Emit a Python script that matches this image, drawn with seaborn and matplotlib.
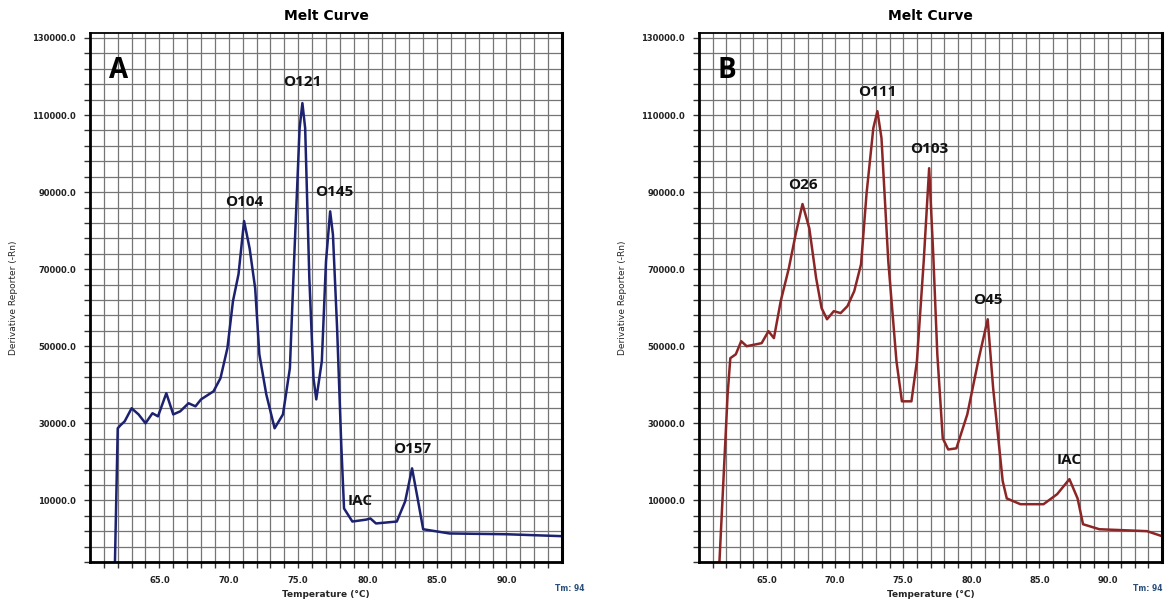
import numpy as np
import pandas as pd
import matplotlib
matplotlib.use("Agg")
import matplotlib.pyplot as plt
import seaborn as sns

# Panel A melt curve (temperature in °C, derivative reporter -Rn)
temp_a = [61.8, 62.0, 62.2, 62.5, 63.0, 63.5, 64.0, 64.5, 64.9, 65.5, 66.0, 66.5, 67.1, 67.6,
          68.0, 68.9, 69.4, 69.9, 70.3, 70.7, 71.1, 71.5, 71.9, 72.2, 72.7, 73.3, 73.9, 74.4,
          74.7, 75.1, 75.3, 75.5, 75.8, 76.1, 76.3, 76.7, 77.0, 77.3, 77.5, 77.8, 78.1, 78.3,
          78.9, 79.9, 80.2, 80.6, 82.1, 82.7, 83.2, 83.6, 84.0, 85.9, 90.0, 94.0]
rn_a = [-6000, 28700, 29500, 30500, 33900, 32300, 30000, 32600, 31800, 37800, 32300, 33100,
        35200, 34400, 36200, 38300, 41700, 49500, 61700, 68700, 82500, 75400, 65000, 47900,
        37500, 28700, 32300, 44300, 72000, 106600, 113100, 106600, 67700, 41700, 36200, 46100,
        72000, 85000, 79000, 54700, 24500, 7900, 4500, 5000, 5300, 4000, 4500, 9700, 18300,
        10500, 2500, 1400, 1200, 700]

# Panel B melt curve
temp_b = [61.5, 62.1, 62.3, 62.7, 63.1, 63.5, 64.6, 65.1, 65.5, 66.0, 66.6, 67.1, 67.6, 68.1,
          68.6, 69.0, 69.4, 69.9, 70.4, 70.9, 71.4, 71.9, 72.3, 72.8, 73.1, 73.4, 73.9, 74.5,
          74.9, 75.6, 76.0, 76.5, 76.9, 77.2, 77.5, 77.9, 78.3, 78.9, 79.7, 80.5, 81.2, 81.6,
          82.3, 82.6, 83.6, 85.3, 86.3, 87.2, 87.8, 88.2, 89.4, 92.9, 94.0]
rn_b = [-6000, 37500, 46900, 47900, 51300, 50000, 50800, 53900, 52100, 61700, 70300, 79100,
        86900, 80600, 67700, 59900, 57000, 59100, 58600, 60400, 64300, 71300, 89500, 106600,
        111000, 104000, 72000, 46100, 35700, 35700, 46100, 72000, 96200, 73900, 47900, 26100,
        23200, 23500, 32300, 46100, 57000, 39100, 15000, 10500, 9000, 9000, 11600, 15500,
        10500, 3800, 2500, 2000, 700]

# Peak annotations: (label, temperature, value)
peaks_a = [("O104", 71.1, 82500), ("O121", 75.3, 113100), ("O145", 77.3, 85000),
           ("IAC", 80.2, 5300), ("O157", 83.2, 18300)]
peaks_b = [("O26", 67.6, 86900), ("O111", 73.1, 111000), ("O103", 76.9, 96200),
           ("O45", 81.2, 57000), ("IAC", 87.2, 15500)]

x_ticks = [65.0, 70.0, 75.0, 80.0, 85.0, 90.0]
y_ticks = [10000.0, 30000.0, 50000.0, 70000.0, 90000.0, 110000.0, 130000.0]
panel_letters = ["A", "B"]
line_colors = ["#1c2170", "#8c2626"]

sns.set_style("white")
plt.rcParams["font.family"] = ["DejaVu Sans"]

fig = plt.figure(figsize=(11.76, 6.05), dpi=100)
ax_a = fig.add_axes([0.0765, 0.0711, 0.4014, 0.8744])
ax_b = fig.add_axes([0.5944, 0.0711, 0.3937, 0.8744])

# label offsets (pixels) above each peak
offsets_a = [(0, 12), (0, 14), (4, 12), (-10, 10), (0, 12)]
offsets_b = [(0, 12), (0, 12), (0, 12), (0, 12), (0, 12)]
tm_pos = [(1.016, "center"), (1.0, "right")]

for ax, t, r, peaks, offs, letter, col, (tmx, tmha) in [
        (ax_a, temp_a, rn_a, peaks_a, offsets_a, panel_letters[0], line_colors[0], tm_pos[0]),
        (ax_b, temp_b, rn_b, peaks_b, offsets_b, panel_letters[1], line_colors[1], tm_pos[1])]:
    df = pd.DataFrame({"Temperature": t, "Rn": r})
    sns.lineplot(data=df, x="Temperature", y="Rn", ax=ax, color=col, linewidth=1.8,
                 sort=False, estimator=None)
    ax.set_xlim(60, 94)
    ax.set_ylim(-6000, 131300)
    ax.set_xticks(x_ticks)
    ax.set_xticklabels([f"{v:.1f}" for v in x_ticks])
    ax.set_yticks(y_ticks)
    ax.set_yticklabels([f"{v:.1f}" for v in y_ticks])
    ax.set_xticks(np.arange(61, 94, 1.0), minor=True)
    ax.set_yticks(np.arange(-6000, 131000, 4000.0), minor=True)
    ax.grid(which="both", color="#757575", linewidth=0.9)
    ax.set_axisbelow(True)
    ax.tick_params(which="both", direction="out", length=4, width=1, color="#333333",
                   labelsize=6, labelcolor="#222222", pad=6)
    ax.tick_params(which="both", top=False, right=False, bottom=True, left=True)
    for s in ax.spines.values():
        s.set_visible(True)
        s.set_color("black")
        s.set_linewidth(1.3)
    ax.spines["left"].set_linewidth(2)
    ax.spines["bottom"].set_linewidth(2)
    ax.spines["right"].set_linewidth(2.2)
    for lbl in ax.get_xticklabels() + ax.get_yticklabels():
        lbl.set_fontweight("bold")
    ax.set_xlabel("Temperature (°C)", fontsize=6.5, fontweight="bold", labelpad=4)
    ax.set_ylabel("Derivative Reporter (-Rn)", fontsize=6.5, labelpad=10)
    ax.set_title("Melt Curve", fontsize=10, fontweight="heavy", pad=9, color="black")
    ax.text(0.04, 0.93, letter, transform=ax.transAxes, fontsize=20, fontweight="bold",
            ha="left", va="center", family="Open Sans", color="black")
    for (name, tx, val), (dx, dy) in zip(peaks, offs):
        ax.annotate(name, (tx, val), xytext=(dx, dy), textcoords="offset pixels",
                    ha="center", va="bottom", fontsize=11, fontweight="bold",
                    family="Open Sans", color="#111111")
    ax.text(tmx, -0.05, "Tm: 94", transform=ax.transAxes, fontsize=5.5,
            color="#2a4f7a", ha=tmha, va="center", fontweight="bold")

fig.savefig("out.png", dpi=100, facecolor="white")
